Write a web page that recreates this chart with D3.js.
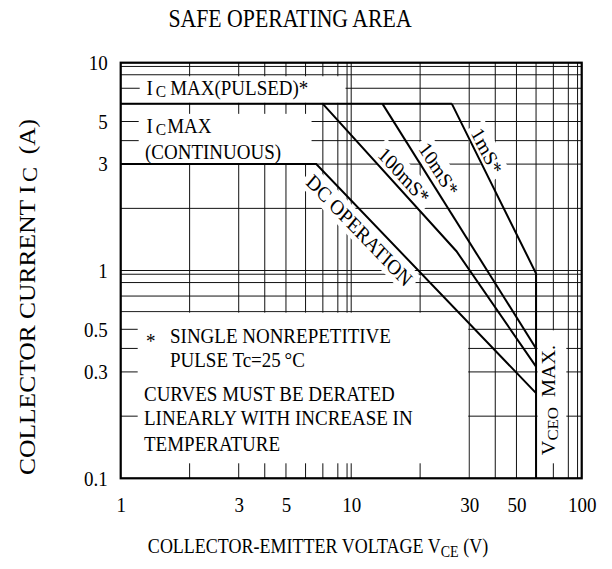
<!DOCTYPE html>
<html><head><meta charset="utf-8">
<script src="https://cdn.jsdelivr.net/npm/d3@7"></script>
<style>
body{margin:0;background:#fff}
svg{display:block}
text{font-family:"Liberation Serif","Times New Roman",serif;fill:#000}
</style>
</head><body>
<svg id="c" width="612" height="569"></svg>
<script>
// ---------------- data ----------------
const xTickLabels = [1, 3, 5, 10, 30, 50, 100];
const yTickLabels = [0.1, 0.3, 0.5, 1, 3, 5, 10];
// safe operating area boundaries (V_CE in volts, I_C in amperes)
const dcV = [1, 6.6, 60],      dcI = [3, 3, 0.247];
const pulsedV = [1, 26],       pulsedI = [6, 6];
const ms100V = [7, 27, 60],    ms100I = [6, 1.24, 0.32];
const ms10V = [13.7, 60],      ms10I = [6, 0.4];
const ms1V = [26, 60, 60],     ms1I = [6, 0.92, 0.1];
const mantissas = [1, 2, 3, 4, 5, 6, 7, 8, 9];
// ruling of the chart's printed log paper (position of mantissas 1..9 inside a decade)
const paperFrac = [0, 0.299, 0.512, 0.625, 0.717, 0.802, 0.877, 0.942, 0.982];

// ---------------- layout ----------------
const svg = d3.select('#c');
const M = {l: 120.7, t: 62.7, r: 30.3, b: 90.7};
const W = 612 - M.l - M.r, H = 569 - M.t - M.b;
const FS = 19;      // body text size
const SY = 1.12;    // the original artwork is stretched vertically

function paperScale(lo, decades, r0, r1) {
  const dom = [], rng = [];
  for (let d = 0; d < decades; d++) {
    mantissas.forEach((m, k) => {
      dom.push(+(lo * Math.pow(10, d) * m).toPrecision(6));
      rng.push(r0 + (d + paperFrac[k]) / decades * (r1 - r0));
    });
  }
  dom.push(lo * Math.pow(10, decades)); rng.push(r1);
  return d3.scaleLog().domain(dom).range(rng);
}
const x = paperScale(1, 2, M.l, M.l + W);
const y = paperScale(0.1, 2, M.t + H, M.t);
const xGrid = x.domain(), yGrid = y.domain();

// text helper: positioned group, vertically stretched, optional rotation
function T(parent, px, py, size, rot = 0, anchor = 'start') {
  return parent.append('g').attr('transform', `translate(${px},${py}) scale(1,${SY}) rotate(${rot})`)
    .append('text').attr('font-size', size).attr('text-anchor', anchor);
}

// ---------------- grid ----------------
const grid = svg.append('g').attr('stroke', '#111').attr('stroke-width', 1);
grid.selectAll('line.v').data(xGrid).join('line').attr('class', 'v')
  .attr('x1', d => x(d)).attr('x2', d => x(d)).attr('y1', M.t).attr('y2', M.t + H);
grid.selectAll('line.h').data(yGrid).join('line').attr('class', 'h')
  .attr('y1', d => y(d)).attr('y2', d => y(d)).attr('x1', M.l).attr('x2', M.l + W);

// ---------------- white label panels with edge stubs ----------------
const panels = [
  {x0: M.l + 19, x1: x(9) - 1.5, y0: y(8) + 1.5, y1: y(6) - 1, stubs: []},
  {x0: M.l + 1, x1: x(6) + 6, y0: y(6) + 1, y1: y(3) - 1,
   stubs: [{side: 'left', len: 18, lo: 3, hi: 6}, {side: 'top', len: 10, lo: 1, hi: 6}]},
  {x0: M.l + 1, x1: x(30) - 1, y0: y(0.6) + 1, y1: M.t + H - 1,
   stubs: [{side: 'left', len: 17, lo: 0.1, hi: 0.6}, {side: 'bottom', len: 15, lo: 1, hi: 30}]},
  {x0: x(60) + 1.5, x1: x(80) - 2, y0: y(0.5) + 1, y1: M.t + H - 1,
   stubs: [{side: 'bottom', len: 15, lo: 60, hi: 80}]}
];
const pg = svg.append('g');
panels.forEach(p => {
  pg.append('rect').attr('x', p.x0).attr('y', p.y0).attr('width', p.x1 - p.x0).attr('height', p.y1 - p.y0).attr('fill', '#fff');
  p.stubs.forEach(s => {
    if (s.side === 'left') {
      yGrid.filter(v => v > s.lo * 1.001 && v < s.hi * 0.999).forEach(v =>
        pg.append('line').attr('x1', M.l).attr('x2', M.l + s.len).attr('y1', y(v)).attr('y2', y(v)).attr('stroke', '#111'));
    } else {
      const yy = s.side === 'top' ? p.y0 - 1 : M.t + H;
      const dir = s.side === 'top' ? 1 : -1;
      xGrid.filter(v => v > s.lo * 1.001 && v <= s.hi * 1.001 && (s.side !== 'bottom' || v < s.hi * 0.999)).forEach(v =>
        pg.append('line').attr('x1', x(v)).attr('x2', x(v)).attr('y1', yy).attr('y2', yy + dir * s.len).attr('stroke', '#111'));
    }
  });
});

// ---------------- curve labels (with white backing) ----------------
function zip(V, I) { return V.map((v, i) => ({v, i: I[i]})); }
function labelAlong(V, I, seg, t, off, txt) {
  const p0 = [x(V[seg]), y(I[seg])], p1 = [x(V[seg + 1]), y(I[seg + 1])];
  const dx = p1[0] - p0[0], dy = p1[1] - p0[1], L = Math.hypot(dx, dy);
  // local angle so that, after the vertical stretch, the baseline follows the curve
  const ang = Math.atan2(dy / SY, dx) * 180 / Math.PI;
  const cx = p0[0] + t * dx + off * dy / L, cy = p0[1] + t * dy - off * dx / L;
  const g = svg.append('g').attr('transform', `translate(${cx},${cy}) scale(1,${SY}) rotate(${ang})`);
  const r = g.append('rect').attr('fill', '#fff');
  const tx = g.append('text').attr('text-anchor', 'middle').attr('dy', '0.35em')
    .attr('font-size', FS).text(txt);
  const bb = tx.node().getBBox();
  r.attr('x', bb.x - 4).attr('y', bb.y - 1).attr('width', bb.width + 8).attr('height', bb.height + 2);
}
[[dcV, dcI, 1, 0.245, -14.5, 'DC OPERATION'],
 [ms100V, ms100I, 0, 0.54, 12, '100mS*'],
 [ms10V, ms10I, 0, 0.295, 13, '10mS*'],
 [ms1V, ms1I, 0, 0.305, 10.5, '1mS*']].forEach(a => labelAlong(...a));

// ---------------- curves ----------------
const line = d3.line().x(d => x(d.v)).y(d => y(d.i));
const curves = svg.append('g').attr('fill', 'none').attr('stroke', '#000').attr('stroke-width', 2);
[[dcV, dcI], [pulsedV, pulsedI], [ms100V, ms100I], [ms10V, ms10I], [ms1V, ms1I]].forEach(([V, I]) =>
  curves.append('path').attr('d', line(zip(V, I))));

// frame
svg.append('rect').attr('x', M.l).attr('y', M.t).attr('width', W).attr('height', H)
  .attr('fill', 'none').attr('stroke', '#000').attr('stroke-width', 2.2);

// ---------------- axes ----------------
const fmt = d => String(d);
const ax = svg.append('g').attr('transform', `translate(0,${M.t + H})`)
  .call(d3.axisBottom(x).tickValues(xTickLabels).tickFormat(fmt).tickSize(0).tickPadding(19));
const ay = svg.append('g').attr('transform', `translate(${M.l},0)`)
  .call(d3.axisLeft(y).tickValues(yTickLabels).tickFormat(fmt).tickSize(0).tickPadding(13));
[ax, ay].forEach(a => {
  a.select('.domain').remove();
  a.selectAll('text').each(function () {
    const t = d3.select(this);
    const tx = +t.attr('x') || 0, ty = +t.attr('y') || 0;
    t.attr('x', 0).attr('y', 0).attr('transform', `translate(${tx},${ty}) scale(1,${SY})`)
      .attr('font-family', '"Liberation Serif","Times New Roman",serif')
      .attr('font-size', FS).attr('fill', '#000');
  });
});

// ---------------- texts ----------------
T(svg, 290, 27, 21.8, 0, 'middle').text('SAFE OPERATING AREA');

const xl = T(svg, 318, 553, 18, 0, 'middle');
xl.append('tspan').text('COLLECTOR-EMITTER VOLTAGE V');
xl.append('tspan').attr('font-size', 14).attr('dy', 4).text('CE');
xl.append('tspan').attr('dy', -4).text('\u00a0(V)');

const yl = T(svg, 35, 297, 22.8, -90, 'middle');
yl.append('tspan').text('COLLECTOR CURRENT I');
yl.append('tspan').attr('font-size', 20).attr('dy', 2).attr('dx', 3).text('C');
yl.append('tspan').attr('dy', -2).text('\u00a0\u00a0(A)');

function icLabel(x0, base, rest, gap) {
  const t = T(svg, x0, base, FS);
  t.append('tspan').text('I');
  t.append('tspan').attr('font-size', 15.5).attr('dx', 3).attr('dy', 2).text('C');
  t.append('tspan').attr('dx', gap).attr('dy', -2).text(rest);
}
icLabel(146.5, 95, 'MAX(PULSED)*', 4);
icLabel(146.5, 133, 'MAX', 1);
T(svg, 145, 158.5, FS).text('(CONTINUOUS)');

T(svg, 146, 348, FS).text('*');
const notes = [
  ['SINGLE NONREPETITIVE', 170, 343],
  ['PULSE Tc=25\u2009\u00b0C', 170, 367],
  ['CURVES MUST BE DERATED', 144, 401],
  ['LINEARLY WITH INCREASE IN', 144, 425],
  ['TEMPERATURE', 144, 451]
];
notes.forEach(([s, xx, yy]) => T(svg, xx, yy, FS).text(s));

const vc = T(svg, 555, 400, 18, -90, 'middle');
vc.append('tspan').text('V');
vc.append('tspan').attr('font-size', 15).attr('dy', 3).text('CEO');
vc.append('tspan').attr('dy', -3).text('\u00a0\u00a0MAX.');
</script>
</body></html>
